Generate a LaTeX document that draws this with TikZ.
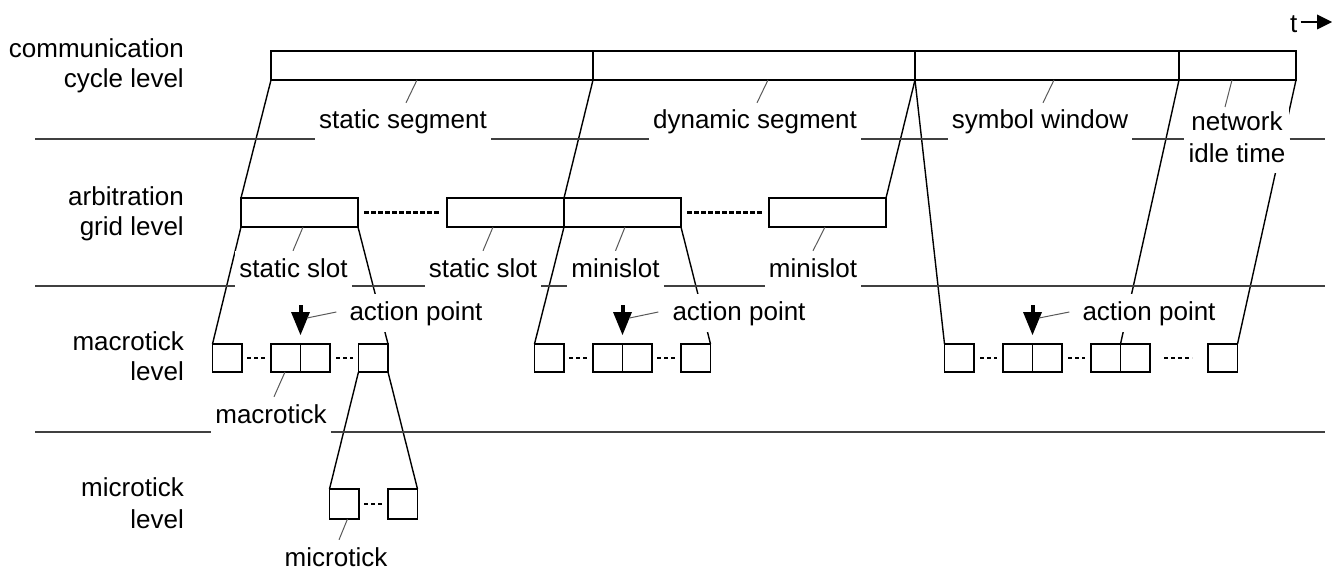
\documentclass[tikz,border=0pt]{standalone}
\usepackage{fontspec}
\setmainfont{Liberation Sans}
\usetikzlibrary{calc}
\begin{document}
\begin{tikzpicture}[x=1pt,y=-1pt]
\tikzset{
 seg/.style={draw, line width=1.4pt, inner sep=0pt, outer sep=0pt, anchor=north west, minimum height=29pt},
 tick/.style={draw, line width=1.4pt, inner sep=0pt, outer sep=0pt, anchor=north west, minimum width=29.5pt, minimum height=28pt},
 utick/.style={tick, minimum height=30pt},
 conn/.style={line width=1.4pt},
 lvl/.style={line width=1.4pt, draw=black!75},
 leader/.style={line width=1pt, draw=black!65},
 txt/.style={font=\fontsize{26}{30}\selectfont, inner sep=0pt},
 lefttxt/.style={txt, anchor=base east},
 cuttxt/.style={txt, fill=white, inner xsep=4pt, inner ysep=5pt, text height=21pt, text depth=7pt, anchor=base},
 nittxt/.style={fill=white, inner xsep=4pt, inner ysep=4pt, align=center, font=\fontsize{26}{32}\selectfont, text depth=7pt, anchor=north},
 longdots/.style={line width=2.8pt, dash pattern=on 5pt off 2pt},
 tdots/.style={line width=2.8pt, dash pattern=on 4pt off 3pt},
}
\useasboundingbox (0,0) rectangle (1332,572);

% communication cycle level
\node[seg, minimum width=322pt] (cSS) at (271,51) {};
\node[seg, minimum width=322pt] (cDS) at (593,51) {};
\node[seg, minimum width=264pt] (cSW) at (915,51) {};
\node[seg, minimum width=117pt] (cNIT) at (1179,51) {};

% arbitration grid level
\node[seg, minimum width=117pt] (a1) at (241,198) {};
\node[seg, minimum width=117pt] (a2) at (447,198) {};
\node[seg, minimum width=117pt] (a3) at (564,198) {};
\node[seg, minimum width=117pt] (a4) at (769,198) {};
\draw[longdots] ([xshift=6pt]a1.east) -- ([xshift=-7pt]a2.west);
\draw[longdots] ([xshift=6pt]a3.east) -- ([xshift=-7pt]a4.west);

% macrotick level
\node[tick] (m1a) at (212.5,344) {};
\node[tick] (m1b) at (271,344) {};
\node[tick] (m1c) at (300.5,344) {};
\node[tick] (m1d) at (358.5,344) {};
\node[tick] (m2a) at (534.5,344) {};
\node[tick] (m2b) at (593,344) {};
\node[tick] (m2c) at (622.5,344) {};
\node[tick] (m2d) at (681,344) {};
\node[tick] (m3a) at (944.5,344) {};
\node[tick] (m3b) at (1003,344) {};
\node[tick] (m3c) at (1032.5,344) {};
\node[tick] (m3d) at (1091,344) {};
\node[tick] (m3e) at (1120.5,344) {};
\node[tick] (m3f) at (1208,344) {};
\draw[tdots] ([xshift=5pt]m1a.east) -- ([xshift=-5pt]m1b.west);
\draw[tdots] ([xshift=6pt]m1c.east) -- ([xshift=-6pt]m1d.west);
\draw[tdots] ([xshift=5pt]m2a.east) -- ([xshift=-5pt]m2b.west);
\draw[tdots] ([xshift=5pt]m2c.east) -- ([xshift=-6pt]m2d.west);
\draw[tdots] ([xshift=6pt]m3a.east) -- ([xshift=-6pt]m3b.west);
\draw[tdots] ([xshift=6pt]m3c.east) -- ([xshift=-6pt]m3d.west);
\draw[tdots] ([xshift=14pt]m3e.east) -- ([xshift=-16pt]m3f.west);

% microtick level
\node[utick] (u1) at (329.5,489) {};
\node[utick] (u2) at (388,489) {};
\draw[tdots] ([xshift=5pt]u1.east) -- ([xshift=-5pt]u2.west);

% connectors between levels
\draw[conn] (cSS.south west) -- (a1.north west);
\draw[conn] (cDS.south west) -- (a3.north west);
\draw[conn] (cSW.south west) -- (a4.north east);
\draw[conn] (cSW.south west) -- (m3a.north west);
\draw[conn] (cNIT.south west) -- (m3e.north west);
\draw[conn] (cNIT.south east) -- (m3f.north east);
\draw[conn] (a1.south west) -- (m1a.north west);
\draw[conn] (a1.south east) -- (m1d.north east);
\draw[conn] (a3.south west) -- (m2a.north west);
\draw[conn] (a3.south east) -- (m2d.north east);
\draw[conn] (m1d.south west) -- (u1.north west);
\draw[conn] (m1d.south east) -- (u2.north east);

% action point arrows
\coordinate (t1) at ([yshift=9pt]m1b.north east);
\coordinate (t2) at ([yshift=9pt]m2b.north east);
\coordinate (t3) at ([yshift=9pt]m3b.north east);
\foreach \t in {t1,t2,t3}{
  \fill (\t) -- ++(-9.5,-23) -- ++(19,0) -- cycle;
  \draw[line width=4pt] ($(\t)+(0,-22)$) -- ++(0,-8);
}

% left labels
\node[lefttxt] (l1a) at (184,58) {communication};
\node[lefttxt] (l1b) at (184,88) {cycle level};
\node[lefttxt] (l2a) at (184,205) {arbitration};
\node[lefttxt] (l2b) at (184,235) {grid level};
\node[lefttxt] (l3a) at (184,350) {macrotick};
\node[lefttxt] (l3b) at (184,380) {level};
\node[lefttxt] (l4a) at (184,496) {microtick};
\node[lefttxt] (l4b) at (184,528) {level};

% element labels
\node[cuttxt] (ss) at (403,129) {static segment};
\node[cuttxt] (ds) at (755,129) {dynamic segment};
\node[cuttxt] (sw) at (1040,129) {symbol window};
\node[nittxt] (nit) at (1237,107) {network\\idle time};
\node[cuttxt] (sl1) at (293.5,277) {static slot};
\node[cuttxt] (sl2) at (483,277) {static slot};
\node[cuttxt] (ms1) at (615.5,277) {minislot};
\node[cuttxt] (ms2) at (813,277) {minislot};
\node[cuttxt] (ap1) at (416,320) {action point};
\node[cuttxt] (ap2) at (739,320) {action point};
\node[cuttxt] (ap3) at (1149,320) {action point};
\node[cuttxt] (mt) at (271,423) {macrotick};
\node[cuttxt] (ut) at (336,566) {microtick};

% leaders
\draw[leader] ([xshift=146pt]cSS.south west) -- ([xshift=3pt]ss.north);
\draw[leader] ([xshift=175pt]cDS.south west) -- ([xshift=2pt]ds.north);
\draw[leader] ([xshift=139pt]cSW.south west) -- ([xshift=3pt]sw.north);
\draw[leader] ([xshift=53pt]cNIT.south west) -- ([xshift=-12pt]nit.north);
\draw[leader] ([xshift=62pt]a1.south west) -- ([xshift=-0.5pt]sl1.north);
\draw[leader] ([xshift=46pt]a2.south west) -- (sl2.north);
\draw[leader] ([xshift=61pt]a3.south west) -- (ms1.north);
\draw[leader] ([xshift=56pt]a4.south west) -- (ms2.north);
\draw[leader] ([xshift=14pt]m1b.south west) -- ([xshift=3pt]mt.north);
\draw[leader] ([xshift=18pt]u1.south west) -- ([xshift=3pt]ut.north);
\draw[leader] ($(t1)+(6.5,-17)$) -- ([xshift=-9pt,yshift=1pt]ap1.west);
\draw[leader] ($(t2)+(7,-17)$) -- ([xshift=-10pt,yshift=1pt]ap2.west);
\draw[leader] ($(t3)+(6.5,-17)$) -- ([xshift=-9pt,yshift=1pt]ap3.west);

% level separator lines
\coordinate (L1) at (35,139);
\coordinate (R1) at (1325,139);
\coordinate (L2) at (35,286);
\coordinate (R2) at (1325,286);
\coordinate (L3) at (35,432);
\coordinate (R3) at (1325,432);
\draw[lvl] (L1) -- (ss.west |- L1);
\draw[lvl] (ss.east |- L1) -- (ds.west |- L1);
\draw[lvl] (ds.east |- L1) -- (sw.west |- L1);
\draw[lvl] (sw.east |- L1) -- (nit.west |- L1);
\draw[lvl] (nit.east |- L1) -- (R1);
\draw[lvl] (L2) -- (sl1.west |- L2);
\draw[lvl] (sl1.east |- L2) -- (sl2.west |- L2);
\draw[lvl] (sl2.east |- L2) -- (ms1.west |- L2);
\draw[lvl] (ms1.east |- L2) -- (ms2.west |- L2);
\draw[lvl] (ms2.east |- L2) -- (R2);
\draw[lvl] (L3) -- (mt.west |- L3);
\draw[lvl] (mt.east |- L3) -- (R3);

% time arrow
\node[txt, anchor=base west] (t) at (1290,33) {t};
\coordinate (tend) at (1332,22);
\draw[line width=1.5pt] ([xshift=3pt]t.east |- tend) -- ([xshift=-15pt]tend);
\fill (tend) -- ++(-15,-7.5) -- ++(0,15) -- cycle;
\end{tikzpicture}
\end{document}
